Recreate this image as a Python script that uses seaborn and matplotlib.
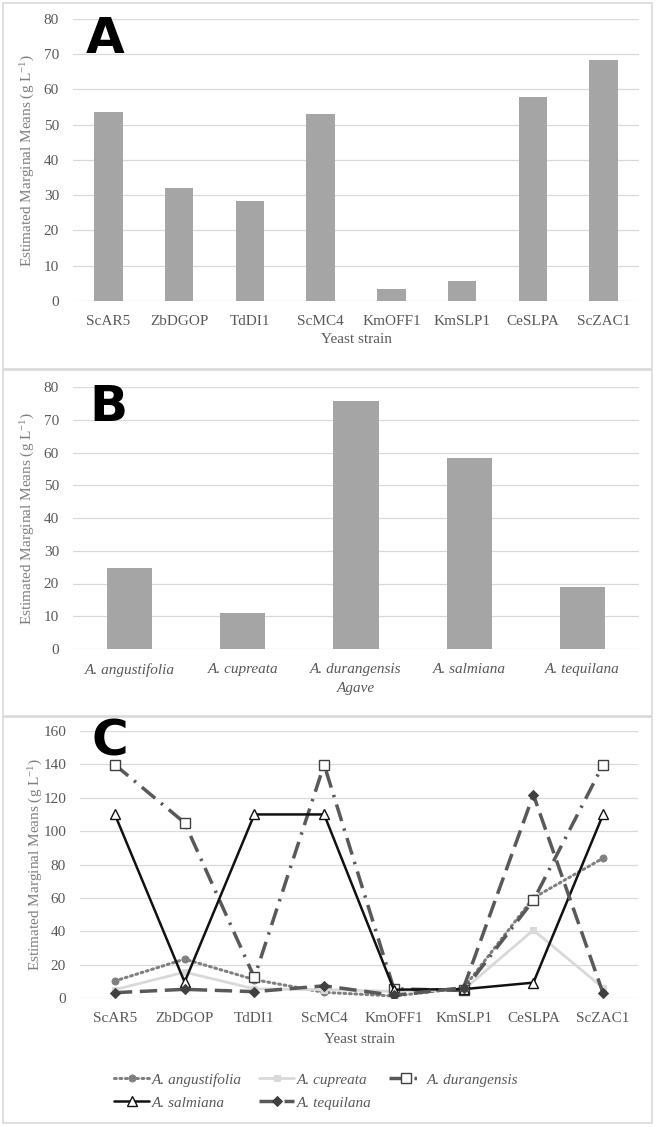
import numpy as np
import pandas as pd
import matplotlib
matplotlib.use("Agg")
import matplotlib.pyplot as plt
from matplotlib.patches import Rectangle
import seaborn as sns

# ---------------- data ----------------
strains = ["ScAR5", "ZbDGOP", "TdDI1", "ScMC4", "KmOFF1", "KmSLP1", "CeSLPA", "ScZAC1"]
strain_means = [53.5, 32.0, 28.5, 53.1, 3.3, 5.7, 58.0, 68.3]

agaves = ["A. angustifolia", "A. cupreata", "A. durangensis", "A. salmiana", "A. tequilana"]
agave_means = [24.7, 11.1, 75.6, 58.4, 18.8]

angustifolia = [10.2, 23.3, 11.0, 3.4, 1.2, 6.0, 60.0, 83.8]
cupreata = [5.0, 15.5, 5.5, 5.0, 4.0, 5.0, 40.7, 6.0]
durangensis = [139.8, 105.0, 12.3, 139.8, 5.5, 4.5, 58.5, 139.8]
salmiana = [110.0, 9.5, 110.0, 110.0, 5.0, 5.3, 9.2, 110.0]
tequilana = [3.2, 5.2, 3.8, 7.3, 1.6, 6.2, 121.8, 2.8]

y_label = r"Estimated Marginal Means (g L$^{-1}$)"

# ---------------- style ----------------
sns.set_style("white")
plt.rcParams["font.family"] = ["Liberation Serif", "DejaVu Serif"]
plt.rcParams["mathtext.fontset"] = "custom"
plt.rcParams["mathtext.rm"] = "Liberation Serif"
plt.rcParams["mathtext.it"] = "Liberation Serif:italic"

TXT = "#595959"
YLAB = "#7f7f7f"
GRID = "#d9d9d9"
BAR = "#a5a5a5"
FS = 11

W, H = 657, 1127
fig = plt.figure(figsize=(W / 100, H / 100), dpi=100)


def fx(px):
    return px / W


def fy(py):
    return 1 - py / H


def add_axes(l, t, r, b):
    return fig.add_axes([fx(l), fy(b), fx(r) - fx(l), fy(t) - fy(b)])


# panel borders
for top, bot in [(3, 369), (370, 716), (717, 1123)]:
    fig.patches.append(Rectangle((fx(3), fy(bot)), fx(652) - fx(3), fy(top) - fy(bot),
                                 transform=fig.transFigure, fill=False,
                                 edgecolor=GRID, linewidth=1.2))


def style_axes(ax, ymax, step, xlabel, xl_italic=False, italic_ticks=False):
    ax.set_ylim(0, ymax)
    ax.set_yticks(np.arange(0, ymax + 1, step))
    ax.yaxis.grid(True, color=GRID, linewidth=0.9)
    ax.xaxis.grid(False)
    ax.set_axisbelow(True)
    for s in ax.spines.values():
        s.set_visible(False)
    ax.tick_params(axis="both", length=0, labelsize=FS, colors=TXT)
    ax.tick_params(axis="y", pad=10)
    ax.tick_params(axis="x", pad=10)
    if italic_ticks:
        for t in ax.get_xticklabels():
            t.set_fontstyle("italic")
    ax.set_ylabel(y_label, fontsize=FS, color=YLAB)
    ax.set_xlabel(xlabel, fontsize=FS, color=TXT, style="italic" if xl_italic else "normal",
                  labelpad=4)
    ax.yaxis.set_label_coords(-0.063, 0.5)


# ---------------- Panel A ----------------
axA = add_axes(73, 19, 639, 301)
sns.barplot(x=strains, y=strain_means, color=BAR, saturation=1, width=0.4,
            linewidth=0, ax=axA)
axA.set_xlim(-0.5, len(strains) - 0.5)
style_axes(axA, 80, 10, "Yeast strain")

# ---------------- Panel B ----------------
axB = add_axes(73, 387, 639, 649)
sns.barplot(x=agaves, y=agave_means, color=BAR, saturation=1, width=0.4,
            linewidth=0, ax=axB)
axB.set_xlim(-0.5, len(agaves) - 0.5)
style_axes(axB, 80, 10, "Agave", xl_italic=True, italic_ticks=True)

# ---------------- Panel C ----------------
axC = add_axes(80, 731, 638, 998)
series = [
    ("A. angustifolia", angustifolia, dict(color="#808080", linestyle=(0, (0.6, 1.2)), lw=2.2,
                                           marker="o", ms=5, mfc="#808080", mec="#808080",
                                           dash_capstyle="round")),
    ("A. cupreata", cupreata, dict(color="#d9d9d9", linestyle="-", lw=2.0,
                                   marker="s", ms=5, mfc="#d9d9d9", mec="#d9d9d9")),
    ("A. durangensis", durangensis, dict(color="#595959", linestyle=(0, (5, 2.2, 0.7, 2.2)), lw=2.5,
                                         marker="s", ms=7, mfc="white", mec="#404040", mew=1.0)),
    ("A. salmiana", salmiana, dict(color="#111111", linestyle="-", lw=1.8,
                                   marker="^", ms=7, mfc="white", mec="#111111", mew=1.0)),
    ("A. tequilana", tequilana, dict(color="#595959", linestyle=(0, (5, 2.2)), lw=2.5,
                                     marker="D", ms=5, mfc="#404040", mec="#404040")),
]
handles = {}
for name, vals, kw in series:
    df = pd.DataFrame({"strain": strains, "value": vals})
    sns.lineplot(data=df, x="strain", y="value", sort=False, ax=axC, **kw)
    handles[name] = axC.get_lines()[-1]
axC.set_xlim(-0.5, len(strains) - 0.5)
style_axes(axC, 160, 20, "Yeast strain")
axC.xaxis.labelpad = 6

# row-major legend order (matplotlib fills columns first)
leg_order = ["A. angustifolia", "A. salmiana", "A. cupreata", "A. tequilana", "A. durangensis"]
leg = fig.legend([handles[n] for n in leg_order], leg_order, ncol=3, frameon=False,
                 loc="upper left", bbox_to_anchor=(fx(114), fy(1073)),
                 bbox_transform=fig.transFigure, borderpad=0, borderaxespad=0,
                 handlelength=2.3, handletextpad=0.2, columnspacing=1.1,
                 labelspacing=0.6, prop=dict(family="Liberation Serif", style="italic", size=FS))
for t in leg.get_texts():
    t.set_color(TXT)

# panel letters
for letter, (x, y) in zip("ABC", [(86, 53), (89, 421), (91, 755)]):
    fig.text(fx(x), fy(y), letter, fontsize=36, fontweight="heavy",
             family="DejaVu Sans", color="black", va="baseline", ha="left")

fig.savefig("out.png", dpi=100)
